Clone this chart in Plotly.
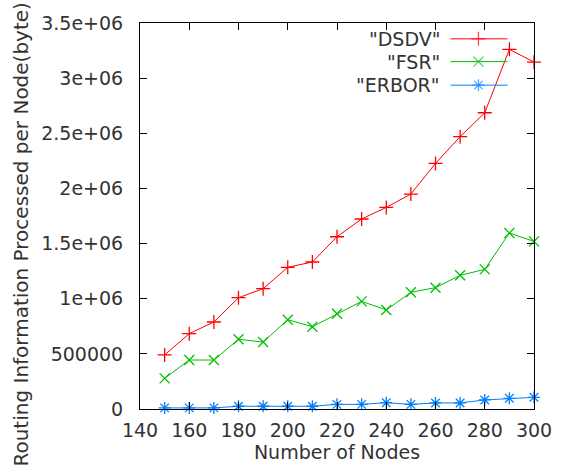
import plotly.graph_objects as go

nodes = [150, 160, 170, 180, 190, 200, 210, 220, 230, 240, 250, 260, 270, 280, 290, 300]
dsdv = [490000, 683000, 789000, 1009000, 1091000, 1285000, 1333000, 1562000, 1723000,
        1828000, 1949000, 2227000, 2469000, 2686000, 3261000, 3146000]
fsr = [278000, 444000, 444000, 632000, 607000, 810000, 746000, 864000, 976000,
       898000, 1058000, 1100000, 1212000, 1266000, 1596000, 1520000]
erbor = [10000, 10000, 10000, 25000, 25000, 25000, 25000, 42000, 42000,
         57000, 42000, 55000, 55000, 82000, 97000, 106000]

series_names = ['"DSDV"', '"FSR"', '"ERBOR"']
colors = ["#ff0000", "#00c000", "#0080ff"]
symbols = ["cross-thin", "x-thin", "asterisk-open"]
x_ticks = [140, 160, 180, 200, 220, 240, 260, 280, 300]
y_ticks = [0, 500000, 1000000, 1500000, 2000000, 2500000, 3000000, 3500000]
y_ticklabels = ["0", "500000", "1e+06", "1.5e+06", "2e+06", "2.5e+06", "3e+06", "3.5e+06"]

FONT = "DejaVu Sans"
TXT = "#333333"
FS = 19

fig = go.Figure()
for name, ys, c, s in zip(series_names, [dsdv, fsr, erbor], colors, symbols):
    fig.add_trace(go.Scatter(
        x=nodes, y=ys, mode="lines+markers", name=name,
        line=dict(color=c, width=1),
        marker=dict(symbol=s, size=10, line=dict(color=c, width=1.3), color=c),
        showlegend=False, cliponaxis=False,
    ))

# gnuplot-style legend (text left, sample right) on an overlay axis in paper-like units
leg_y = [0.959, 0.900, 0.839]
for name, c, s, ly in zip(series_names, colors, symbols, leg_y):
    fig.add_trace(go.Scatter(
        x=[0.788, 0.859, 0.933], y=[ly, ly, ly], xaxis="x2", yaxis="y2",
        mode="lines+markers", line=dict(color=c, width=1),
        marker=dict(symbol=s, size=[0, 10, 0], line=dict(color=c, width=1.3), color=c),
        showlegend=False, hoverinfo="skip",
    ))
    fig.add_annotation(x=0.766, y=ly, xref="paper", yref="paper", text=name,
                       xanchor="right", yanchor="middle", showarrow=False,
                       font=dict(family=FONT, size=FS, color=TXT))

axis_common = dict(showgrid=False, zeroline=False, showline=True, linecolor="#000000",
                   linewidth=1, mirror="ticks", ticks="inside", ticklen=7,
                   tickcolor="#000000", tickfont=dict(family=FONT, size=FS, color=TXT))

fig.update_layout(
    width=564, height=468,
    margin=dict(l=140, r=19, t=23, b=59),
    paper_bgcolor="white", plot_bgcolor="white",
    xaxis=dict(range=[140, 300], tickvals=x_ticks, ticklabelstandoff=4, **axis_common,
               title=dict(text="Number of Nodes", standoff=2,
                          font=dict(family=FONT, size=FS, color=TXT))),
    yaxis=dict(range=[0, 3500000], tickvals=y_ticks, ticktext=y_ticklabels,
               ticklabelstandoff=12, **axis_common),
    xaxis2=dict(range=[0, 1], overlaying="x", visible=False, domain=[0, 1]),
    yaxis2=dict(range=[0, 1], overlaying="y", visible=False),
    showlegend=False,
)
fig.add_annotation(x=-0.301, y=0.453, xref="paper", yref="paper",
                   text="Routing Information Processed per Node(byte)", textangle=-90,
                   showarrow=False, xanchor="center", yanchor="middle",
                   font=dict(family=FONT, size=20, color=TXT))

fig.write_html("out.html")
